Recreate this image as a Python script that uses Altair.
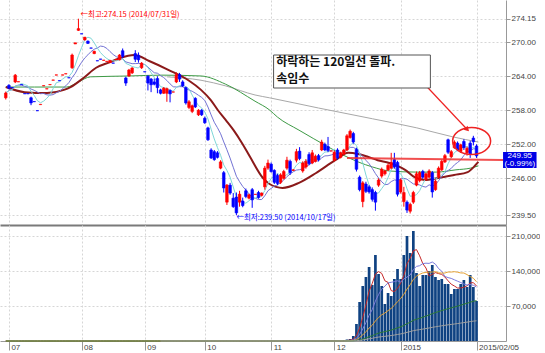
import json
import altair as alt
import pandas as pd

# ---------------- data (trading-day index 0 = 2014-06-30 ... 149 = 2015-02-05) ----------------
open_ = [260.2, 262.4, 262.0, 263.0, 263.0, 262.55, 260.95, 260.95, 260.2, 259.55,
         257.95, 259.0, 262.3, 261.75, 262.5, 263.3, 264.2, 263.25, 264.2, 264.4,
         263.75, 265.5, 269.7, 272.1, 271.5, 270.4, 270.2, 269.0, 268.0, 266.75,
         267.05, 266.8, 266.6, 266.4, 266.35, 266.9, 266.9, 268.5, 263.7, 264.05,
         264.6, 268.0, 267.7, 265.5, 264.8, 264.0, 263.5, 263.0, 263.6, 261.6,
         261.0, 261.0, 261.5, 261.2, 263.0, 264.3, 263.0, 262.0, 258.5, 257.8,
         260.1, 257.2, 258.0, 256.6, 254.9, 251.0, 250.7, 250.5, 247.8, 247.0,
         241.8, 244.8, 242.5, 242.7, 241.8, 242.0, 243.8, 242.5, 244.0, 243.15,
         243.5, 243.0, 244.5, 247.8, 248.5, 247.4, 246.5, 245.3, 246.0, 247.8,
         249.0, 247.4, 249.2, 250.8, 247.3, 248.0, 250.2, 248.7, 249.0, 250.0,
         251.0, 252.0, 251.6, 250.8, 249.2, 251.0, 249.7, 250.3, 251.0, 253.2,
         253.9, 251.1, 246.2, 241.9, 245.0, 244.5, 244.0, 243.5, 244.8, 246.4,
         246.8, 247.5, 247.8, 249.3, 248.8, 243.6, 241.9, 241.8, 240.2, 241.8,
         244.8, 245.6, 247.2, 245.8, 246.2, 247.0, 244.0, 246.2, 247.5, 248.9,
         252.8, 249.8, 251.4, 252.2, 250.7, 252.5, 250.5, 252.2, 253.1, 251.7]
high = [261.3, 262.6, 262.0, 264.4, 263.05, 262.55, 260.95, 260.95, 260.4, 259.55,
        257.95, 259.05, 262.35, 261.8, 262.55, 263.35, 264.25, 263.25, 264.25, 264.45,
        263.75, 268.0, 269.9, 274.15, 271.5, 270.9, 270.3, 269.0, 268.5, 266.75,
        267.05, 266.85, 266.65, 266.8, 266.35, 267.0, 267.9, 268.9, 263.9, 265.3,
        265.6, 268.6, 268.2, 266.5, 264.8, 264.2, 263.7, 263.6, 264.0, 261.8,
        262.1, 262.0, 261.7, 261.25, 264.7, 264.6, 263.3, 262.2, 259.8, 259.0,
        260.3, 258.2, 258.2, 256.9, 255.1, 251.3, 251.0, 250.8, 249.2, 247.3,
        245.0, 245.2, 243.4, 243.5, 243.8, 242.6, 244.2, 243.3, 244.3, 243.2,
        243.8, 243.5, 248.2, 249.3, 248.8, 247.6, 246.8, 246.9, 247.5, 249.8,
        249.3, 247.6, 251.2, 251.5, 249.0, 249.4, 250.6, 251.0, 250.2, 250.3,
        252.8, 252.3, 253.3, 250.85, 250.9, 251.3, 250.7, 251.2, 253.8, 254.6,
        254.2, 251.4, 246.5, 245.5, 245.4, 244.8, 244.4, 243.8, 246.0, 247.9,
        247.5, 248.6, 250.5, 250.5, 249.1, 246.0, 244.5, 242.1, 241.7, 243.8,
        247.2, 247.3, 247.5, 247.0, 247.6, 247.3, 245.8, 248.1, 249.3, 250.3,
        253.0, 251.0, 252.7, 252.5, 252.1, 252.9, 251.6, 252.6, 253.5, 252.0]
low = [259.9, 261.7, 261.95, 262.8, 263.0, 262.5, 260.9, 260.9, 258.9, 259.5,
       257.9, 259.0, 262.3, 261.75, 262.5, 263.3, 264.2, 263.2, 264.2, 264.4,
       263.7, 265.3, 269.7, 272.0, 271.45, 270.3, 269.7, 268.95, 267.9, 266.7,
       267.0, 266.8, 266.6, 266.4, 266.3, 266.9, 266.8, 267.2, 262.3, 263.9,
       264.4, 266.5, 266.4, 265.3, 264.75, 261.5, 261.2, 262.4, 261.0, 260.8,
       260.9, 259.5, 259.4, 261.2, 262.8, 263.0, 262.1, 259.0, 258.2, 257.5,
       258.4, 257.0, 257.0, 255.6, 252.6, 249.4, 249.1, 249.5, 247.6, 243.5,
       241.3, 243.1, 240.8, 239.5, 241.0, 240.9, 242.5, 242.3, 240.8, 243.15,
       242.4, 242.8, 244.0, 247.5, 247.0, 245.0, 244.8, 245.0, 245.8, 247.5,
       246.6, 247.3, 248.8, 249.2, 247.0, 247.7, 248.3, 248.5, 248.8, 249.0,
       250.8, 250.8, 250.6, 250.8, 249.0, 249.3, 249.5, 250.1, 250.8, 253.0,
       252.1, 247.2, 243.7, 240.9, 243.4, 243.3, 241.9, 240.3, 244.5, 246.1,
       246.5, 247.3, 247.6, 247.7, 242.8, 243.3, 241.0, 239.9, 239.8, 241.5,
       244.6, 245.3, 245.9, 245.6, 246.0, 242.6, 243.8, 246.0, 247.3, 248.7,
       250.3, 249.6, 251.2, 250.8, 250.5, 251.0, 250.0, 249.6, 251.8, 249.6]
close = [261.05, 261.9, 261.95, 264.2, 263.05, 262.5, 260.9, 260.9, 259.3, 259.5,
         257.9, 259.05, 262.35, 261.8, 262.55, 263.35, 264.25, 263.2, 264.25, 264.45,
         263.7, 267.75, 269.9, 272.4, 271.45, 270.9, 269.8, 268.95, 268.4, 266.7,
         267.0, 266.85, 266.65, 266.8, 266.3, 267.0, 267.75, 267.5, 262.8, 265.1,
         265.45, 267.0, 266.9, 266.3, 264.75, 262.8, 262.5, 262.6, 262.0, 261.0,
         261.9, 261.8, 260.9, 261.25, 264.3, 263.5, 262.3, 259.3, 259.5, 258.8,
         258.6, 258.0, 257.2, 255.8, 252.8, 249.6, 249.3, 249.7, 248.9, 244.3,
         244.8, 243.4, 241.0, 239.9, 243.2, 241.2, 242.8, 243.1, 242.2, 243.2,
         242.6, 243.4, 247.8, 248.7, 247.2, 245.3, 245.1, 246.6, 247.2, 249.2,
         247.0, 247.5, 250.7, 249.5, 248.7, 249.0, 248.6, 250.5, 249.9, 249.3,
         252.4, 251.0, 250.9, 250.85, 250.6, 249.6, 250.5, 251.0, 253.5, 254.3,
         252.4, 247.6, 244.0, 245.2, 243.7, 243.6, 242.3, 241.8, 245.7, 247.6,
         247.3, 248.3, 248.8, 248.0, 243.2, 245.7, 243.5, 240.4, 241.4, 243.5,
         246.8, 247.0, 246.2, 246.8, 247.3, 243.6, 245.5, 247.8, 249.0, 250.0,
         250.6, 250.7, 252.4, 251.0, 251.9, 251.4, 251.3, 250.3, 252.45, 249.95]
volume = [0] * 101 + [2000, 0, 0, 0, 0, 0, 2000, 3000, 4000, 10000,
                      34000, 78000, 110000, 128000, 148000, 112000, 172000, 134000, 110000, 74000,
                      96000, 90000, 124000, 144000, 124000, 172000, 210000, 176000, 220000, 136000,
                      110000, 132000, 132000, 140000, 152000, 128000, 122000, 124000, 114000, 114000,
                      94000, 104000, 104000, 114000, 122000, 108000, 132000, 108000, 80000]

# moving-average lines (index, value)
ma20_idx = [0, 6.0, 13.1, 18.4, 20.5, 24.6, 28.6, 33.0, 36.1, 40.7, 45.4, 51.6, 57.8, 61.8, 64.9,
            67.1, 69.6, 72.1, 74.8, 77.3, 81.4, 83.5, 87.6, 92.8, 98.1, 104.3, 108.4, 111.5, 114.6,
            117.7, 121.4, 126.4, 129.4, 132.6, 136.9, 141.9, 146.2, 148.7, 149.6]
ma20_val = [262.1, 261.2, 261.05, 261.6, 262.1, 263.7, 265.5, 266.5, 267.2, 267.75, 266.7, 265.1,
            263.3, 261.6, 259.8, 258.05, 256.3, 254.5, 252.2, 249.8, 246.06, 245.0, 244.3, 245.2,
            246.9, 249.2, 250.5, 250.3, 249.8, 249.2, 248.7, 247.5, 246.2, 245.7, 246.06, 246.6,
            247.1, 248.35, 248.9]
ma60_idx = [0, 9.1, 19.3, 23.0, 26.8, 39.2, 49.4, 61.8, 69.6, 78.9, 83.5, 86.0, 92.8, 102.2,
            106.8, 111.5, 116.1, 121.4, 130.1, 136.3, 142.5, 147.1, 149.6]
ma60_val = [262.1, 262.1, 262.1, 263.0, 263.9, 264.05, 264.2, 264.05, 262.6, 259.6, 258.05,
            256.8, 254.5, 251.5, 250.1, 248.9, 248.0, 247.3, 247.1, 247.1, 247.5, 247.8, 248.2]
ma120_idx = [51.0, 61.8, 69.6, 78.9, 83.5, 99.0, 116.1, 130.1, 141.6, 149.6]
ma120_val = [263.9, 263.3, 262.3, 260.7, 260.2, 258.4, 256.5, 254.9, 253.3, 252.4]

month_ticks = [1, 24, 44, 63, 84, 104, 125, 149]
month_labels = ["07", "08", "09", "10", "11", "12", "2015", "2015/02/05"]
price_ticks = [239.5, 246.0, 252.0, 258.0, 264.0, 270.0, 274.15]
vol_ticks = [70000, 140000, 210000]

# ---------------- layout constants ----------------
XDOM = [-0.24, 156.75]
PDOM = [237.77, 277.45]
VDOM = [0, 232000]
W, PH, VH = 506, 225, 116
RED, BLUE = "#ff0000", "#0000ff"
GRID = dict(grid=True, gridColor="#d6d6d6", gridDash=[2, 2], gridWidth=1)

df = pd.DataFrame({"idx": list(range(len(close))), "open": open_, "high": high,
                   "low": low, "close": close, "vol": volume})
df["dir"] = ["up" if c >= o else "down" for o, c in zip(open_, close)]


def xp(field="idx"):
    return alt.X(f"{field}:Q", scale=alt.Scale(domain=XDOM, nice=False, zero=False),
                 axis=alt.Axis(values=month_ticks, labels=False, ticks=False, domainColor="#7a7a7a",
                               domainWidth=2, title=None, **GRID))


def yp(field):
    return alt.Y(f"{field}:Q", scale=alt.Scale(domain=PDOM, nice=False, zero=False),
                 axis=alt.Axis(orient="right", values=price_ticks, format=".2f", labelFontSize=8,
                               labelColor="#444", labelFont="Liberation Sans", tickSize=4,
                               tickColor="#999", domainColor="#999", labelPadding=1, title=None,
                               **GRID))


dir_color = alt.Color("dir:N", scale=alt.Scale(domain=["up", "down"], range=[RED, BLUE]), legend=None)
dir_stroke = alt.Stroke("dir:N", scale=alt.Scale(domain=["up", "down"], range=[RED, BLUE]), legend=None)
sort_idx = [alt.SortField("idx", order="ascending")]

base = alt.Chart(df)
ma5 = base.transform_window(ma5="mean(close)", frame=[-4, 0], sort=sort_idx).mark_line(
    color="#7fd8d8", strokeWidth=1).encode(x=xp(), y=yp("ma5"))
ma10 = base.transform_window(ma10="mean(close)", frame=[-9, 0], sort=sort_idx).mark_line(
    color="#7272d4", strokeWidth=1).encode(x=xp(), y=yp("ma10"))

ma20 = alt.Chart(pd.DataFrame({"idx": ma20_idx, "v": ma20_val})).mark_line(
    color="#8b1a1a", strokeWidth=2, interpolate="monotone").encode(x=xp(), y=yp("v"))
ma60 = alt.Chart(pd.DataFrame({"idx": ma60_idx, "v": ma60_val})).mark_line(
    color="#3d9a45", strokeWidth=1, interpolate="monotone").encode(x=xp(), y=yp("v"))
ma120 = alt.Chart(pd.DataFrame({"idx": ma120_idx, "v": ma120_val})).mark_line(
    color="#a8a8a8", strokeWidth=1, interpolate="monotone").encode(x=xp(), y=yp("v"))

wicks = base.mark_rule(strokeWidth=1).encode(x=xp(), y=yp("low"), y2="high", color=dir_color)
bodies = base.mark_bar(size=2.6, strokeWidth=0.6).encode(
    x=xp(), y=yp("open"), y2="close", color=dir_color, stroke=dir_stroke)

# annotations (data coordinates)
support = alt.Chart(pd.DataFrame({"idx": [108.0, 157.4], "v": [249.58, 249.23]})).mark_line(
    color="#ee3030", strokeWidth=2, opacity=0.85).encode(x=xp(), y=yp("v"))
arrow = alt.Chart(pd.DataFrame({"idx": [132.2, 146.2], "v": [262.81, 254.52]})).mark_line(
    color="#ee2222", strokeWidth=1.2).encode(x=xp(), y=yp("v"))
arrow_head = alt.Chart(pd.DataFrame({"idx": [145.9], "v": [254.7]})).mark_point(
    shape="triangle", angle=136, size=32, filled=True, color="#ee2222", opacity=1).encode(
    x=xp(), y=yp("v"))
ELLIPSE = ("M -1 0 C -1 -0.392 -0.552 -0.71 0 -0.71 C 0.552 -0.71 1 -0.392 1 0 "
           "C 1 0.392 0.552 0.71 0 0.71 C -0.552 0.71 -1 0.392 -1 0 Z")
ellipse = alt.Chart(pd.DataFrame({"idx": [147.45], "v": [252.58]})).mark_point(
    shape=ELLIPSE, size=1444, filled=False, color="#ee2222", strokeWidth=1.5, opacity=1).encode(
    x=xp(), y=yp("v"))

box = alt.Chart(pd.DataFrame({"x1": [84.77], "x2": [134.4], "y1": [267.75], "y2": [261.93]})).mark_rect(
    fill="white", stroke="#555555", strokeWidth=1).encode(x=xp("x1"), x2="x2", y=yp("y1"), y2="y2")
box_text = alt.Chart(pd.DataFrame({"idx": [85.6, 85.6], "v": [266.45, 263.6],
                                   "t": ["하락하는 120일선  돌파.", "속임수"]})).mark_text(
    align="left", baseline="middle", font="Noto Sans CJK KR", fontSize=12, fontWeight="bold",
    color="#111111").encode(x=xp(), y=yp("v"), text="t:N")

hi_lo = alt.Chart(pd.DataFrame({"idx": [23.65, 73.0], "v": [274.8, 239.0],
                                "t": ["←최고:274.15 (2014/07/31일)", "←최저:239.50 (2014/10/17일)"],
                                "c": ["hi", "lo"]})).mark_text(
    align="left", baseline="middle", font="Noto Sans CJK KR", fontSize=7.5).encode(
    x=xp(), y=yp("v"), text="t:N",
    color=alt.Color("c:N", scale=alt.Scale(domain=["hi", "lo"], range=["#d03a3a", "#33449a"]), legend=None))

last_box = alt.Chart(pd.DataFrame({"x1": [157.4], "x2": [168.0], "y1": [250.64], "y2": [247.82]})).mark_rect(
    fill="#0000e6").encode(x=xp("x1"), x2="x2", y=yp("y1"), y2="y2")
last_text = alt.Chart(pd.DataFrame({"idx": [162.7, 162.7], "v": [249.95, 248.55],
                                    "t": ["249.95", "(-0.99%)"]})).mark_text(
    align="center", baseline="middle", font="Liberation Sans", fontSize=8, color="white").encode(
    x=xp(), y=yp("v"), text="t:N")

price = alt.layer(ma120, ma60, ma20, ma10, ma5, wicks, bodies, support, ellipse, arrow, arrow_head,
                  box, box_text, hi_lo, last_box, last_text).properties(width=W, height=PH)

# ---------------- volume panel ----------------
label_expr = f"{json.dumps(month_labels)}[indexof({json.dumps(month_ticks)}, datum.value)]"


def xv():
    return alt.X("idx:Q", scale=alt.Scale(domain=XDOM, nice=False, zero=False),
                 axis=alt.Axis(values=month_ticks, labelExpr=label_expr, labelAlign="left",
                               labelBaseline="top", labelOffset=2, labelPadding=-7, tickSize=9,
                               tickColor="#999", domainColor="#999", labelFontSize=8,
                               labelColor="#444", labelFont="Liberation Sans", labelFlush=False,
                               labelOverlap=False, title=None, **GRID))


def yv(field):
    return alt.Y(f"{field}:Q", scale=alt.Scale(domain=VDOM, nice=False, zero=True),
                 axis=alt.Axis(orient="right", values=vol_ticks, format=",d", labelFontSize=8,
                               labelColor="#444", labelFont="Liberation Sans", tickSize=4,
                               tickColor="#999", domainColor="#999", labelPadding=1, title=None,
                               **GRID))


vbase = alt.Chart(df)
vbars = vbase.mark_bar(size=2.7, color="#0f4282").encode(x=xv(), y=yv("vol"))
vlines = []
for name, frame, col in [("m5", 4, "#c62828"), ("m10", 9, "#7b7bdc"), ("m20", 19, "#e6a335"),
                         ("m60", 59, "#2e7d32"), ("m120", 119, "#a0a0a0")]:
    ch = vbase.transform_window(**{name: "mean(vol)"}, frame=[-frame, 0], sort=sort_idx)
    if name == "m120":
        ch = ch.transform_filter("datum.idx >= 49")
    vlines.append(ch.mark_line(color=col, strokeWidth=1).encode(x=xv(), y=yv(name)))

vol = alt.layer(vbars, *vlines).properties(width=W, height=VH)

chart = alt.vconcat(price, vol, spacing=0).properties(padding=0, background="white").configure_view(
    strokeWidth=0)

chart.save("out.html", embed_options={"renderer": "svg", "actions": False})
